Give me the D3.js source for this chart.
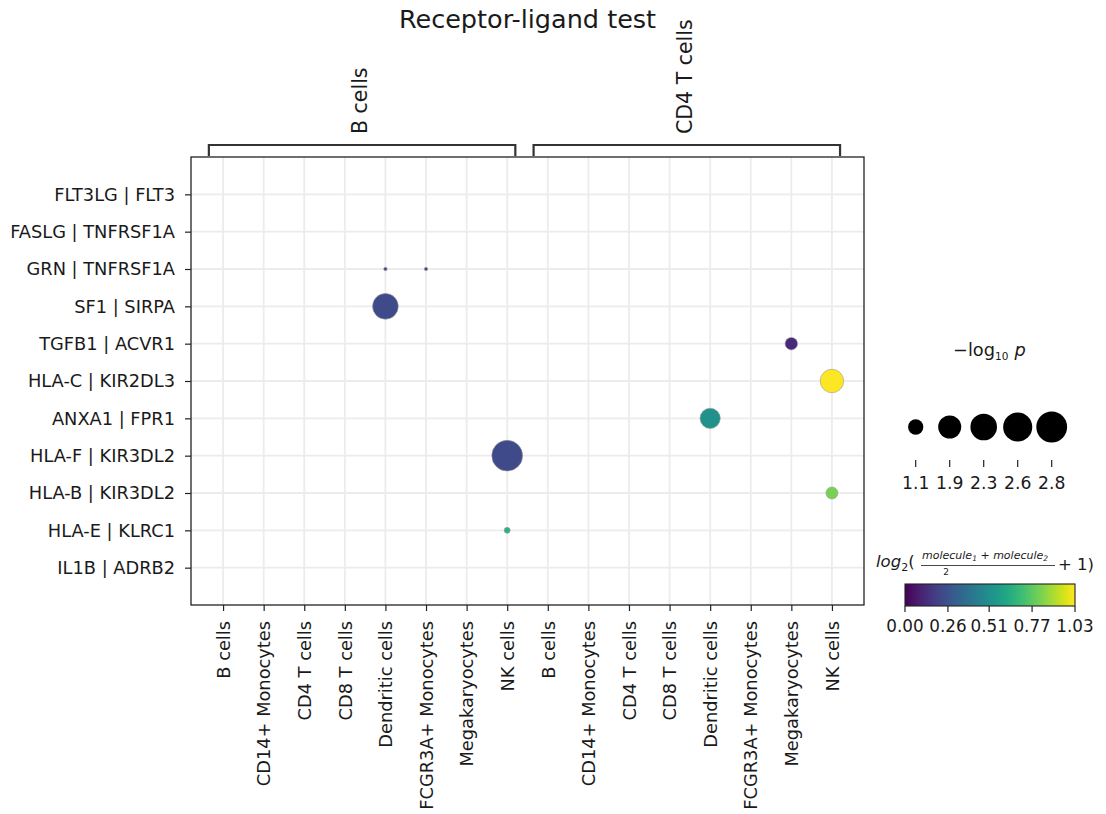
<!DOCTYPE html>
<html><head><meta charset="utf-8">
<script src="https://cdn.jsdelivr.net/npm/d3@7"></script>
<style>
body{margin:0;background:#fff}
text{font-family:"DejaVu Sans",sans-serif;fill:#1a1a1a}
</style>
</head><body>
<svg id="c" width="1106" height="814"></svg>
<script>
// ---------- data ----------
const clusters = ["B cells","CD14+ Monocytes","CD4 T cells","CD8 T cells","Dendritic cells","FCGR3A+ Monocytes","Megakaryocytes","NK cells"];
const sourceGroups = ["B cells","CD4 T cells"];
const pairs = ["FLT3LG | FLT3","FASLG | TNFRSF1A","GRN | TNFRSF1A","SF1 | SIRPA","TGFB1 | ACVR1","HLA-C | KIR2DL3","ANXA1 | FPR1","HLA-F | KIR3DL2","HLA-B | KIR3DL2","HLA-E | KLRC1","IL1B | ADRB2"];
const dotSource = ["B cells","B cells","B cells","B cells","B cells","CD4 T cells","CD4 T cells","CD4 T cells","CD4 T cells"];
const dotTarget = ["Dendritic cells","FCGR3A+ Monocytes","Dendritic cells","NK cells","NK cells","Megakaryocytes","NK cells","Dendritic cells","NK cells"];
const dotPair   = ["GRN | TNFRSF1A","GRN | TNFRSF1A","SF1 | SIRPA","HLA-F | KIR3DL2","HLA-E | KLRC1","TGFB1 | ACVR1","HLA-C | KIR2DL3","ANXA1 | FPR1","HLA-B | KIR3DL2"];
const dotLogP   = [0.15, 0.15, 2.2, 2.8, 0.32, 0.84, 1.95, 1.6, 0.8];
const dotMean   = [0.23, 0.23, 0.23, 0.23, 0.66, 0.12, 1.03, 0.515, 0.82];
const sizeTicks = [1.1, 1.9, 2.3, 2.6, 2.8];
const colorTicks = [0.00, 0.26, 0.51, 0.77, 1.03];
const colorMax = 1.03;
const sizeMax = 2.8;

// ---------- layout ----------
const svg = d3.select("#c");
const L = 191, R = 864, T = 157, B = 605;
const FS = 17.8;

const xKeys = [];
sourceGroups.forEach(g => clusters.forEach(c => xKeys.push(g + "|" + c)));
const x = d3.scalePoint().domain(xKeys).range([L, R]).padding(0.79);
const y = d3.scalePoint().domain(pairs).range([T, B]).padding(1);
const color = v => d3.interpolateViridis(v / colorMax);
const rMax = 15.4;
const radius = v => Math.sqrt(rMax * rMax * Math.pow(v / sizeMax, 1.5));

// grid
const grid = svg.append("g");
xKeys.forEach(k => grid.append("line").attr("x1", x(k)).attr("x2", x(k)).attr("y1", T).attr("y2", B)
  .attr("stroke", "#ececec").attr("stroke-width", 1.8));
pairs.forEach(p => grid.append("line").attr("x1", L).attr("x2", R).attr("y1", y(p)).attr("y2", y(p))
  .attr("stroke", "#ececec").attr("stroke-width", 1.8));

// dots
const dots = dotSource.map((s, i) => ({s, t: dotTarget[i], p: dotPair[i], v: dotLogP[i], m: dotMean[i]}));
svg.append("g").selectAll("circle").data(dots).join("circle")
  .attr("cx", d => x(d.s + "|" + d.t))
  .attr("cy", d => y(d.p))
  .attr("r", d => radius(d.v))
  .attr("fill", d => color(d.m))
  .attr("stroke", "#9a9a9a").attr("stroke-width", 0.6);

// frame
svg.append("rect").attr("x", L).attr("y", T).attr("width", R - L).attr("height", B - T)
  .attr("fill", "none").attr("stroke", "#222").attr("stroke-width", 1.3);

// y axis
const ya = svg.append("g").attr("transform", `translate(${L},0)`)
  .call(d3.axisLeft(y).tickSize(6).tickPadding(10));
ya.select(".domain").remove();
ya.selectAll("line").attr("stroke", "#222").attr("stroke-width", 1.2);
ya.selectAll("text").style("font-size", FS + "px").attr("fill", "#1a1a1a")
  .style("font-family", '"DejaVu Sans",sans-serif');

// x axis
const xa = svg.append("g").attr("transform", `translate(0,${B})`)
  .call(d3.axisBottom(x).tickSize(6).tickFormat(d => d.split("|")[1]));
xa.select(".domain").remove();
xa.selectAll("line").attr("stroke", "#222").attr("stroke-width", 1.2);
xa.selectAll("text").style("font-size", FS + "px").attr("fill", "#1a1a1a")
  .style("font-family", '"DejaVu Sans",sans-serif')
  .attr("y", 0).attr("x", -16).attr("dy", "0.35em")
  .attr("transform", "rotate(-90)").style("text-anchor", "end");

// brackets
const step = x.step();
sourceGroups.forEach(g => {
  const x0 = x(g + "|" + clusters[0]) - 0.35 * step;
  const x1 = x(g + "|" + clusters[clusters.length - 1]) + 0.2 * step;
  svg.append("path").attr("d", `M${x0},${T - 1}V145H${x1}V${T - 1}`)
    .attr("fill", "none").attr("stroke", "#333").attr("stroke-width", 2.2);
  const cx = (x0 + x1) / 2;
  svg.append("text").attr("transform", `translate(${cx - 2},134) rotate(-90)`)
    .attr("dy", "0.35em").style("font-size", "20.5px").text(g);
});

// title
svg.append("text").attr("x", (L + R) / 2).attr("y", 28).attr("text-anchor", "middle")
  .style("font-size", "25.5px").text("Receptor-ligand test");

// size legend
const st = svg.append("text").attr("x", 953).attr("y", 356).style("font-size", "17.8px");
st.append("tspan").text("\u2212log");
st.append("tspan").attr("dy", 4).style("font-size", "10.5px").text("10");
st.append("tspan").attr("dy", -4).attr("dx", 6).style("font-style", "italic").text("p");
sizeTicks.forEach((v, i) => {
  const cx = 915.7 + i * 34;
  svg.append("circle").attr("cx", cx).attr("cy", 427).attr("r", radius(v)).attr("fill", "#000");
  svg.append("line").attr("x1", cx).attr("x2", cx).attr("y1", 460).attr("y2", 467)
    .attr("stroke", "#222").attr("stroke-width", 1.2);
  svg.append("text").attr("x", cx).attr("y", 489).attr("text-anchor", "middle")
    .style("font-size", "17.2px").text(v.toFixed(1));
});

// colorbar
const cbL = 905, cbR = 1075, cbT = 584, cbB = 606;
const grad = svg.append("defs").append("linearGradient").attr("id", "vir");
d3.range(0, 1.0001, 0.05).forEach(t => grad.append("stop").attr("offset", t).attr("stop-color", d3.interpolateViridis(t)));
svg.append("rect").attr("x", cbL).attr("y", cbT).attr("width", cbR - cbL).attr("height", cbB - cbT)
  .attr("fill", "url(#vir)").attr("stroke", "#222").attr("stroke-width", 1.1);
const cx = d3.scaleLinear().domain([0, colorMax]).range([cbL, cbR]);
colorTicks.forEach(v => {
  svg.append("line").attr("x1", cx(v)).attr("x2", cx(v)).attr("y1", cbB).attr("y2", cbB + 6)
    .attr("stroke", "#222").attr("stroke-width", 1.2);
  svg.append("text").attr("x", cx(v)).attr("y", 632).attr("text-anchor", "middle")
    .style("font-size", "16.8px").text(v.toFixed(2));
});

// colorbar label: log2( (molecule1 + molecule2)/2 + 1 )
const lab = svg.append("g");
const t1 = lab.append("text").attr("x", 876).attr("y", 567).style("font-size", "16.5px");
t1.append("tspan").style("font-style", "italic").text("log");
t1.append("tspan").attr("dy", 4).style("font-size", "11px").text("2");
t1.append("tspan").attr("dy", -4).text("(");
const num = lab.append("text").attr("x", 922).attr("y", 559).style("font-size", "11px").style("font-style", "italic");
num.append("tspan").text("molecule");
num.append("tspan").attr("dy", 2).style("font-size", "7.5px").text("1");
num.append("tspan").attr("dy", -2).style("font-style", "normal").text(" + ");
num.append("tspan").text("molecule");
num.append("tspan").attr("dy", 2).style("font-size", "7.5px").text("2");
lab.append("line").attr("x1", 921).attr("x2", 1055).attr("y1", 565.5).attr("y2", 565.5)
  .attr("stroke", "#333").attr("stroke-width", 0.9);
lab.append("text").attr("x", 946).attr("y", 575).attr("text-anchor", "middle").style("font-size", "9px").text("2");
lab.append("text").attr("x", 1058).attr("y", 570).style("font-size", "16.5px").text("+ 1)");
</script>
</body></html>
